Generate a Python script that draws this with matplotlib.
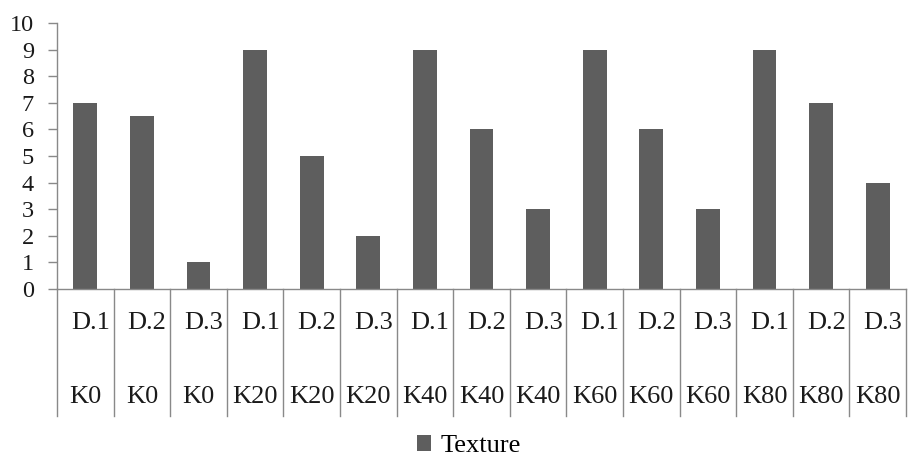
import matplotlib.pyplot as plt
import matplotlib.transforms as mtransforms
from matplotlib.patches import Patch

# data
samples = ['D.1', 'D.2', 'D.3'] * 5
groups = ['K0'] * 3 + ['K20'] * 3 + ['K40'] * 3 + ['K60'] * 3 + ['K80'] * 3
texture = [7, 6.5, 1, 9, 5, 2, 9, 6, 3, 9, 6, 3, 9, 7, 4]

plt.rcParams['font.family'] = ['Liberation Serif', 'DejaVu Serif']

bar_color = '#5e5e5e'
line_color = '#898989'
text_color = '#1a1a1a'

fig = plt.figure(figsize=(9.09, 4.59), dpi=100)
ax = fig.add_axes([57 / 909, 1 - 289 / 459, (906 - 57) / 909, (289 - 23) / 459])

x = list(range(len(texture)))
ax.bar(x, texture, width=0.42, color=bar_color, zorder=2)

ax.set_xlim(-0.5, len(texture) - 0.5)
ax.set_ylim(0, 10)
ax.set_yticks(range(0, 11))
ax.tick_params(axis='y', direction='out', length=6.5, width=1, color=line_color,
               labelsize=17.5, pad=10, labelcolor=text_color)
ax.set_xticks([])

for s in ['top', 'right']:
    ax.spines[s].set_visible(False)
for s in ['left', 'bottom']:
    ax.spines[s].set_color(line_color)
    ax.spines[s].set_linewidth(1)

# two-level category labels with separators
trans = mtransforms.blended_transform_factory(ax.transData, ax.transAxes)
for i in range(len(texture) + 1):
    ax.plot([i - 0.5, i - 0.5], [0, -0.477], transform=trans, color=line_color,
            lw=1, clip_on=False)
for i in x:
    ax.text(i + 0.09, -0.128, samples[i], transform=trans, ha='center', va='center',
            fontsize=19, color=text_color)
    ax.text(i, -0.406, groups[i], transform=trans, ha='center', va='center',
            fontsize=19, color=text_color)

handle = Patch(facecolor=bar_color, edgecolor='none', label='Texture')
fig.legend(handles=[handle], loc='center', bbox_to_anchor=(0.516, 1 - 446 / 459),
           frameon=False, fontsize=19, handlelength=0.55, handleheight=0.55,
           handletextpad=0.35, borderpad=0.1)

fig.savefig('out.png', dpi=100)
